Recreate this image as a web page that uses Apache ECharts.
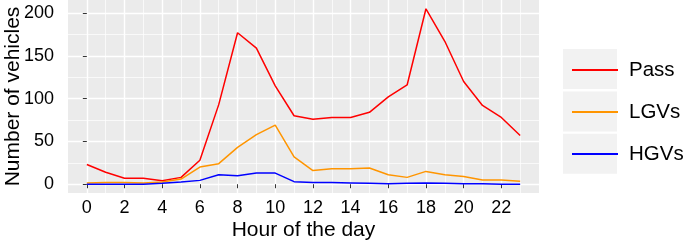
<!DOCTYPE html>
<html><head><meta charset="utf-8">
<script src="https://cdn.jsdelivr.net/npm/echarts@6/dist/echarts.min.js"></script>
<style>html,body{margin:0;padding:0;background:#fff}#c{width:685px;height:243px}</style>
</head><body><div id="c"></div>
<script>
const hours = [0,1,2,3,4,5,6,7,8,9,10,11,12,13,14,15,16,17,18,19,20,21,22,23];
const pass = [23,14,7,7,4,8,28,93,177,159,115,80,76,78,78,84,102,116,205,167,120,92,78,57];
const lgvs = [1.5,2,2,1.5,2.5,6,20,24,43,58,69,32,16,18,18,19,11,8,15,11,9,5,5,3.5];
const hgvs = [0,0,0,0,1,2.5,4.5,11,10,13,13,3,2,2,1.5,1,0.5,1,1.5,1,0.5,0.5,0,0];
const seriesNames = ['Pass','LGVs','HGVs'];
const xMajorTicks = [0,2,4,6,8,10,12,14,16,18,20,22];
const xMinorTicks = [1,3,5,7,9,11,13,15,17,19,21,23];
const yMajorTicks = [0,50,100,150,200];
const yMinorTicks = [25,75,125,175];

const FONT = "'Liberation Sans', Arial, Helvetica, sans-serif";
const colors = ['#FF0000','#FF9500','#0000FF'];
const values = [pass, lgvs, hgvs];

const chart = echarts.init(document.getElementById('c'), null, {renderer:'canvas'});
const xRange = {min:-1, max:24};
const yRange = {min:-10.25, max:215.25};

const option = {
  animation: false,
  grid: {left:68, right:146, top:0, bottom:50, show:true, backgroundColor:'#EBEBEB', borderWidth:0, outerBoundsMode:'none', containLabel:false},
  xAxis: [
    {type:'value', ...xRange, name:'Hour of the day', nameLocation:'middle', nameGap:27, nameMoveOverlap:false,
     nameTextStyle:{fontSize:21, color:'#000', fontFamily:FONT},
     axisLine:{show:false},
     axisTick:{show:true, customValues:xMajorTicks, length:4, lineStyle:{color:'#333', width:1}},
     axisLabel:{customValues:xMajorTicks, fontSize:18, color:'#000', fontFamily:FONT, margin:6},
     splitLine:{show:true, lineStyle:{color:'#FFFFFF', width:1.4}}},
    {type:'value', ...xRange, position:'bottom', axisLine:{show:false}, axisLabel:{show:false},
     axisTick:{show:false, customValues:xMinorTicks},
     splitLine:{show:true, lineStyle:{color:'#FFFFFF', width:0.7}}}
  ],
  yAxis: [
    {type:'value', ...yRange, name:'Number of vehicles', nameLocation:'middle', nameGap:44, nameRotate:90, nameMoveOverlap:false,
     nameTextStyle:{fontSize:21, color:'#000', fontFamily:FONT},
     axisLine:{show:false},
     axisTick:{show:true, customValues:yMajorTicks, length:4, lineStyle:{color:'#333', width:1}},
     axisLabel:{customValues:yMajorTicks, fontSize:18, color:'#000', fontFamily:FONT, margin:14},
     splitLine:{show:true, lineStyle:{color:'#FFFFFF', width:1.4}}},
    {type:'value', ...yRange, position:'left', axisLine:{show:false}, axisLabel:{show:false},
     axisTick:{show:false, customValues:yMinorTicks},
     splitLine:{show:true, lineStyle:{color:'#FFFFFF', width:0.7}}}
  ],
  legend: {
    orient:'vertical', left:567, top:54, itemGap:20, itemWidth:46, itemHeight:2, icon:'rect',
    data: seriesNames, z:10,
    textStyle:{fontSize:20.5, color:'#000', fontFamily:FONT, lineHeight:22, padding:[0,0,0,6]}
  },
  graphic: [0,1,2].map(i => ({type:'rect', z:-1, shape:{x:563, y:49 + i*42.4, width:54, height:40}, style:{fill:'#F2F2F2'}})),
  series: seriesNames.map((n,i) => ({
    name:n, type:'line', xAxisIndex:0, yAxisIndex:0, showSymbol:false, symbol:'none',
    lineStyle:{color:colors[i], width:1.5}, itemStyle:{color:colors[i]},
    data: hours.map((h,j) => [h, values[i][j]]), z:5
  }))
};
chart.setOption(option);
</script></body></html>
